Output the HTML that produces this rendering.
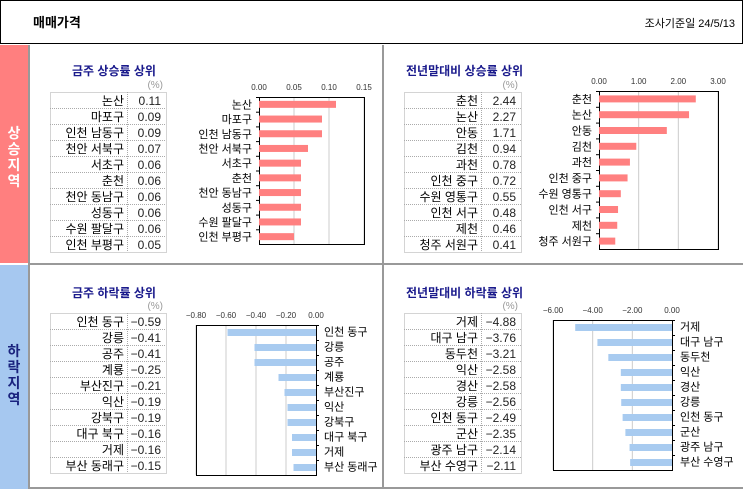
<!DOCTYPE html>
<html><head><meta charset="utf-8"><style>
body{margin:0;background:#fff;width:743px;height:489px;overflow:hidden;font-family:"Liberation Sans","Noto Sans CJK KR",sans-serif}
svg text{font-family:"Liberation Sans","Noto Sans CJK KR",sans-serif}
</style></head><body>
<svg id="s" width="743" height="489" xmlns="http://www.w3.org/2000/svg">
<rect x="0.5" y="0.5" width="742" height="43" fill="#fff" stroke="#000"/>
<text x="33" y="27" font-size="13" font-weight="bold">매매가격</text>
<text x="735" y="27" font-size="11" text-anchor="end">조사기준일 24/5/13</text>
<rect x="0" y="45" width="28" height="218" fill="#ff7f7f"/>
<rect x="0" y="265" width="28" height="224" fill="#a6c8f0"/>
<text x="14" y="138" font-size="14" font-weight="bold" fill="#fff" text-anchor="middle"><tspan x="14">상</tspan><tspan x="14" dy="16">승</tspan><tspan x="14" dy="16">지</tspan><tspan x="14" dy="16">역</tspan></text>
<text x="14" y="356" font-size="14" font-weight="bold" fill="#1a237e" text-anchor="middle"><tspan x="14">하</tspan><tspan x="14" dy="16">락</tspan><tspan x="14" dy="16">지</tspan><tspan x="14" dy="16">역</tspan></text>
<rect x="28" y="45" width="2" height="444" fill="#999"/>
<rect x="30" y="263" width="713" height="2" fill="#999"/>
<rect x="30" y="487" width="713" height="2" fill="#999"/>
<rect x="382" y="45" width="2" height="444" fill="#999"/>
<g id="g"></g>
</svg>
<script>
const p1Cats=["논산","마포구","인천 남동구","천안 서북구","서초구","춘천","천안 동남구","성동구","수원 팔달구","인천 부평구"];
const p1Vals=[0.11,0.09,0.09,0.07,0.06,0.06,0.06,0.06,0.06,0.05];
const p1Ticks=["0.00","0.05","0.10","0.15"];
const p2Cats=["춘천","논산","안동","김천","과천","인천 중구","수원 영통구","인천 서구","제천","청주 서원구"];
const p2Vals=[2.44,2.27,1.71,0.94,0.78,0.72,0.55,0.48,0.46,0.41];
const p2Ticks=["0.00","1.00","2.00","3.00"];
const p3Cats=["인천 동구","강릉","공주","계룡","부산진구","익산","강북구","대구 북구","거제","부산 동래구"];
const p3Vals=[-0.59,-0.41,-0.41,-0.25,-0.21,-0.19,-0.19,-0.16,-0.16,-0.15];
const p3Ticks=["-0.80","-0.60","-0.40","-0.20","0.00"];
const p4Cats=["거제","대구 남구","동두천","익산","경산","강릉","인천 동구","군산","광주 남구","부산 수영구"];
const p4Vals=[-4.88,-3.76,-3.21,-2.58,-2.58,-2.56,-2.49,-2.35,-2.14,-2.11];
const p4Ticks=["-6.00","-4.00","-2.00","0.00"];
const NS="http://www.w3.org/2000/svg",G=document.getElementById('g');
function el(t,a,txt){const e=document.createElementNS(NS,t);for(const k in a)e.setAttribute(k,a[k]);if(txt!==undefined)e.textContent=txt;G.appendChild(e);return e;}
function panel(o){
 let e=el('text',{x:o.tx,y:o.ty,'font-size':12,'font-weight':'bold',fill:'#1a1a8c'},o.title);
 
 
 e=el('text',{x:o.tabR-3,y:o.tabY-4,'font-size':10,fill:'#999','text-anchor':'end'},'(%)');
 
 
 const rh=16;
 el('rect',{x:o.tabX+0.5,y:o.tabY+0.5,width:o.tabR-o.tabX,height:rh*10,fill:'none',stroke:'#aaa','stroke-dasharray':'1,1'});
 el('line',{x1:o.tabS+0.5,y1:o.tabY,x2:o.tabS+0.5,y2:o.tabY+rh*10,stroke:'#aaa','stroke-dasharray':'1,1'});
 o.cats.forEach((c,i)=>{
  const y=o.tabY+rh*(i+1);
  if(i<9)el('line',{x1:o.tabX,y1:y+0.5,x2:o.tabR,y2:y+0.5,stroke:'#aaa','stroke-dasharray':'1,1'});
  let t=el('text',{x:o.tabS-3,y:y-3,'font-size':12,'text-anchor':'end'},c);
  
  
  t=el('text',{x:o.tabR-5,y:y-3,'font-size':12,'text-anchor':'end',fill:'#222'},o.vals[i].toFixed(2).replace('-','−'));
  
  
 });
 const tv=o.ticks.map(Number),mn=Math.min(...tv,0),mx=Math.max(...tv);
 const sx=v=>o.px0+(v-mn)/(mx-mn)*(o.px1-o.px0);
 o.ticks.forEach(t=>{const x=sx(+t);
  if(+t!==0)el('line',{x1:x,y1:o.py0,x2:x,y2:o.py1,stroke:'#ccc'});
  const l=el('text',{x:x,y:o.py0-7,'font-size':8,'text-anchor':'middle',fill:'#333'},t.replace(/-/g,'−'));
  
  
 });
 el('rect',{x:o.px0+0.5,y:o.py0+0.5,width:o.px1-o.px0,height:o.py1-o.py0,fill:'none',stroke:'#000'});
 const bw=(o.py1-o.py0)/10,z=sx(0);
 o.cats.forEach((c,i)=>{
  const cy=o.py0+bw*(i+0.5),x=sx(o.vals[i]);
  const b=el('rect',{x:Math.min(x,z),y:cy-3.5,width:Math.abs(x-z),height:7,fill:o.color});
  
  
  const ax=o.neg?o.px1:o.px0;
  el('line',{x1:ax+(o.neg?0:-3),y1:o.py0+bw*i+0.5,x2:ax+(o.neg?3:0),y2:o.py0+bw*i+0.5,stroke:'#000'});
  const l=el('text',{x:o.neg?o.px1+8:o.px0-7,y:cy+4+(o.neg?-1:0),'font-size':11,'text-anchor':o.neg?'start':'end'},c);
  
  
 });
}
panel({id:'weekly-rise',title:'금주 상승률 상위',tx:72,ty:75,tabX:50,tabS:127,tabR:166,tabY:92,cats:p1Cats,vals:p1Vals,ticks:p1Ticks,px0:259,px1:364,py0:97,py1:244,color:'#ff8080',neg:false});
panel({id:'yearly-rise',title:'전년말대비 상승률 상위',tx:406,ty:75,tabX:404,tabS:481,tabR:521,tabY:92,cats:p2Cats,vals:p2Ticks&&p2Vals,ticks:p2Ticks,px0:599,px1:718,py0:91,py1:249,color:'#ff8080',neg:false});
panel({id:'weekly-fall',title:'금주 하락률 상위',tx:72,ty:297,tabX:50,tabS:127,tabR:166,tabY:313,cats:p3Cats,vals:p3Vals,ticks:p3Ticks,px0:196,px1:316,py0:325,py1:475,color:'#a8cbf0',neg:true});
panel({id:'yearly-fall',title:'전년말대비 하락률 상위',tx:406,ty:297,tabX:404,tabS:481,tabR:521,tabY:313,cats:p4Cats,vals:p4Vals,ticks:p4Ticks,px0:553,px1:672,py0:320,py1:470,color:'#a8cbf0',neg:true});
</script>
</body></html>
